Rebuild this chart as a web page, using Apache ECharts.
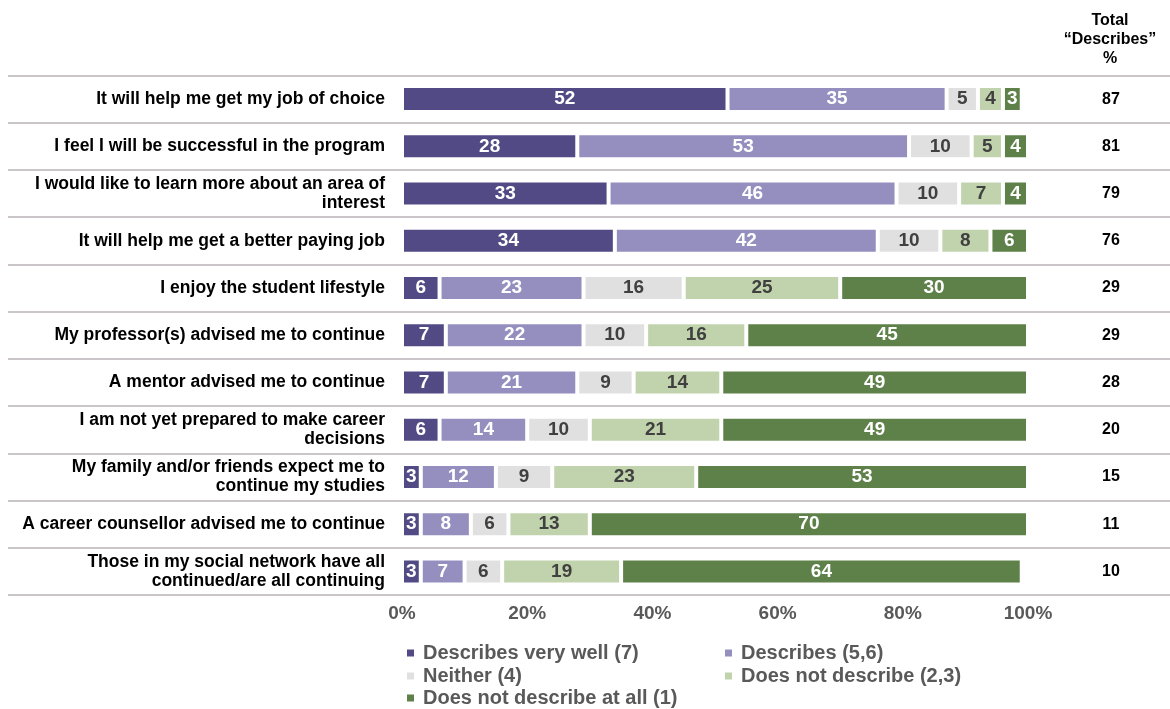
<!DOCTYPE html>
<html>
<head>
<meta charset="utf-8">
<title>Reasons for continuing studies</title>
<script src="https://cdn.jsdelivr.net/npm/echarts@6/dist/echarts.min.js"></script>
<style>
  html, body { margin: 0; padding: 0; background: #ffffff; }
  #chart { width: 1170px; height: 709px; }
</style>
</head>
<body>
<div id="chart"></div>
<script>
// Statements, top to bottom
const categories = [
  'It will help me get my job of choice',
  'I feel I will be successful in the program',
  'I would like to learn more about an area of\ninterest',
  'It will help me get a better paying job',
  'I enjoy the student lifestyle',
  'My professor(s) advised me to continue',
  'A mentor advised me to continue',
  'I am not yet prepared to make career\ndecisions',
  'My family and/or friends expect me to\ncontinue my studies',
  'A career counsellor advised me to continue',
  'Those in my social network have all\ncontinued/are all continuing'
];

// Response shares (%) per statement
const veryWell     = [52, 28, 33, 34, 6, 7, 7, 6, 3, 3, 3];
const describes    = [35, 53, 46, 42, 23, 22, 21, 14, 12, 8, 7];
const neither      = [5, 10, 10, 10, 16, 10, 9, 10, 9, 6, 6];
const notDescribe  = [4, 5, 7, 8, 25, 16, 14, 21, 23, 13, 19];
const notAtAll     = [3, 4, 4, 6, 30, 45, 49, 49, 53, 70, 64];

// Total "Describes" column
const totalDescribes = [87, 81, 79, 76, 29, 29, 28, 20, 15, 11, 10];

const seriesNames = [
  'Describes very well (7)',
  'Describes (5,6)',
  'Neither (4)',
  'Does not describe (2,3)',
  'Does not describe at all (1)'
];

const xTicks = [0, 20, 40, 60, 80, 100];

const FONT = "'Liberation Sans', Arial, Helvetica, sans-serif";
const colors = ['#524a84', '#958fc0', '#e0e0e0', '#c1d3ac', '#5e8049'];
const labelColors = ['#ffffff', '#ffffff', '#404040', '#404040', '#ffffff'];
const seriesData = [veryWell, describes, neither, notDescribe, notAtAll];

const chart = echarts.init(document.getElementById('chart'), null, { renderer: 'canvas' });

const GRID_TOP = 75.5;
const GRID_BOTTOM = 114;

// Legend laid out as a two-column grid under the axis
const legendCols = [405, 723];
const legendRows = [643, 666, 688];
const legends = seriesNames.map((name, i) => ({
  data: [name],
  left: legendCols[i % 2],
  top: legendRows[Math.floor(i / 2)],
  padding: 0,
  icon: 'rect',
  itemWidth: 9,
  itemHeight: 9,
  textStyle: {
    fontFamily: FONT,
    fontWeight: 'bold',
    fontSize: 20,
    color: '#595959',
    padding: [0, 0, 0, 3]
  }
}));

const option = {
  backgroundColor: '#ffffff',
  animation: false,
  graphic: [{
    type: 'text',
    x: 1110,
    y: 11,
    style: {
      text: 'Total\n\u201cDescribes\u201d\n%',
      align: 'center',
      verticalAlign: 'top',
      fontFamily: FONT,
      fontWeight: 'bold',
      fontSize: 16,
      lineHeight: 19,
      fill: '#000000'
    }
  }],
  legend: legends,
  grid: [
    { left: 8, right: 0, top: GRID_TOP, bottom: GRID_BOTTOM, containLabel: false },
    { left: 402, right: 142, top: GRID_TOP, bottom: GRID_BOTTOM, containLabel: false }
  ],
  xAxis: [
    { gridIndex: 0, type: 'value', min: 0, max: 1, show: false },
    {
      gridIndex: 1,
      type: 'value',
      min: xTicks[0],
      max: xTicks[xTicks.length - 1],
      interval: xTicks[1] - xTicks[0],
      axisLine: { show: false },
      axisTick: { show: false },
      splitLine: { show: false },
      axisLabel: {
        formatter: '{value}%',
        margin: 9,
        fontFamily: FONT,
        fontWeight: 'bold',
        fontSize: 19,
        color: '#595959'
      }
    }
  ],
  yAxis: [
    {
      gridIndex: 0,
      type: 'category',
      data: categories,
      inverse: true,
      axisLine: { show: false },
      axisTick: { show: false },
      axisLabel: { show: false },
      splitLine: { show: true, lineStyle: { color: '#c9c5c9', width: 2 } }
    },
    {
      gridIndex: 1,
      type: 'category',
      data: categories,
      inverse: true,
      axisLine: { show: false },
      axisTick: { show: false },
      splitLine: { show: false },
      axisLabel: {
        margin: 17,
        align: 'right',
        fontFamily: FONT,
        fontWeight: 'bold',
        fontSize: 17.5,
        lineHeight: 19,
        color: '#000000'
      }
    },
    {
      gridIndex: 1,
      type: 'category',
      data: totalDescribes.map(String),
      inverse: true,
      position: 'right',
      axisLine: { show: false },
      axisTick: { show: false },
      splitLine: { show: false },
      axisLabel: {
        margin: 83,
        align: 'center',
        fontFamily: FONT,
        fontWeight: 'bold',
        fontSize: 16,
        color: '#000000'
      }
    }
  ],
  series: seriesNames.map((name, i) => ({
    name: name,
    type: 'bar',
    stack: 'share',
    xAxisIndex: 1,
    yAxisIndex: 1,
    barWidth: 26,
    data: seriesData[i],
    itemStyle: { color: colors[i], borderColor: '#ffffff', borderWidth: 2 },
    label: {
      show: true,
      position: 'inside',
      formatter: '{c}',
      fontFamily: FONT,
      fontWeight: 'bold',
      fontSize: 19,
      color: labelColors[i]
    },
    emphasis: { disabled: true }
  }))
};

chart.setOption(option);
</script>
</body>
</html>
